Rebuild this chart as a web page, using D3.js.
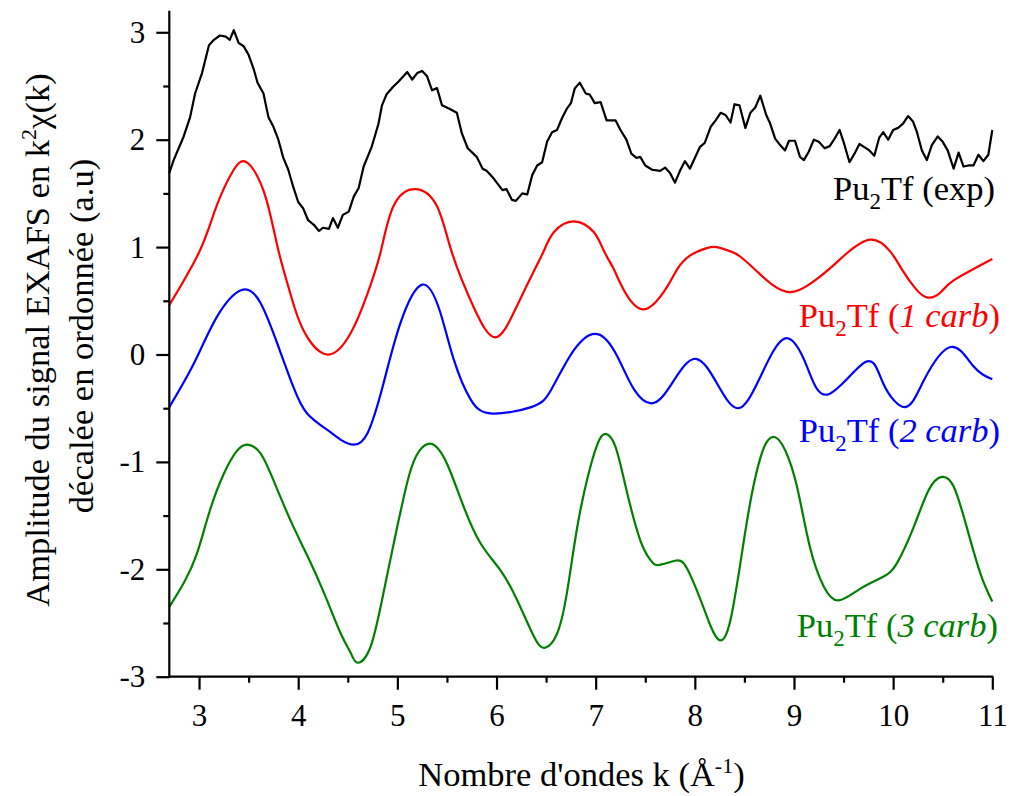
<!DOCTYPE html>
<html><head><meta charset="utf-8">
<script src="https://cdn.jsdelivr.net/npm/d3@7"></script>
<style>
html,body{margin:0;padding:0;background:#fff;}
</style></head>
<body><svg id="c" width="1011" height="796"></svg>
<script>
// ---- data ----
const xTicks = [3,4,5,6,7,8,9,10,11];
const xMinor = [3.5,4.5,5.5,6.5,7.5,8.5,9.5,10.5];
const yTicks = [-3,-2,-1,0,1,2,3];
const yMinor = [-2.5,-1.5,-0.5,0.5,1.5,2.5];

const kExp = [2.70,2.744,2.845,2.91,2.96,3.03,3.10,3.15,3.21,3.27,3.31,3.35,3.40,3.45,3.50,3.55,3.59,3.65,3.67,3.70,3.75,3.80,3.85,3.90,3.95,4.00,4.05,4.10,4.155,4.21,4.25,4.31,4.35,4.40,4.45,4.51,4.56,4.61,4.66,4.74,4.81,4.845,4.89,4.955,5.01,5.10,5.15,5.20,5.25,5.30,5.35,5.40,5.45,5.52,5.60,5.65,5.71,5.80,5.86,5.90,5.97,6.06,6.10,6.155,6.195,6.26,6.31,6.36,6.41,6.46,6.51,6.56,6.61,6.66,6.71,6.75,6.79,6.84,6.90,6.94,6.99,7.05,7.11,7.20,7.25,7.31,7.36,7.41,7.45,7.50,7.57,7.65,7.70,7.75,7.80,7.85,7.90,7.95,8.00,8.05,8.10,8.16,8.21,8.26,8.31,8.36,8.40,8.45,8.51,8.56,8.61,8.66,8.72,8.76,8.81,8.86,8.91,8.95,9.01,9.06,9.10,9.15,9.20,9.25,9.31,9.36,9.41,9.46,9.50,9.56,9.61,9.66,9.71,9.76,9.81,9.86,9.90,9.95,10.00,10.05,10.10,10.15,10.20,10.24,10.29,10.34,10.39,10.45,10.50,10.55,10.61,10.66,10.71,10.76,10.81,10.86,10.91,10.96,11.00];
const chiExp = [1.69,1.81,2.03,2.21,2.43,2.62,2.88,2.93,2.97,2.96,2.93,3.02,2.90,2.87,2.79,2.66,2.53,2.43,2.34,2.21,2.12,2.00,1.83,1.72,1.56,1.42,1.36,1.25,1.21,1.15,1.18,1.17,1.27,1.18,1.30,1.33,1.47,1.55,1.75,1.93,2.15,2.32,2.42,2.49,2.54,2.63,2.56,2.62,2.64,2.59,2.46,2.48,2.32,2.29,2.25,2.06,1.92,1.84,1.73,1.71,1.64,1.53,1.54,1.44,1.43,1.50,1.49,1.67,1.76,1.79,1.98,2.07,2.09,2.20,2.29,2.34,2.48,2.53,2.43,2.42,2.34,2.35,2.18,2.18,2.09,2.00,1.87,1.83,1.84,1.76,1.72,1.71,1.74,1.69,1.60,1.71,1.80,1.73,1.83,1.93,1.97,2.12,2.18,2.25,2.23,2.16,2.33,2.32,2.11,2.25,2.30,2.41,2.23,2.15,2.01,1.95,1.90,1.99,1.99,1.84,1.81,1.89,2.00,1.98,1.92,1.94,2.01,2.09,1.98,1.79,1.87,1.96,1.93,1.90,1.85,2.02,2.07,2.00,2.09,2.11,2.15,2.22,2.17,2.07,1.90,1.81,1.95,2.03,1.98,1.90,1.73,1.88,1.75,1.76,1.76,1.86,1.80,1.86,2.09];

const k1 = [2.70,3.01,3.18,3.35,3.45,3.55,3.68,3.80,3.92,4.05,4.29,4.53,4.70,4.83,4.96,5.18,5.40,5.55,5.77,5.99,6.20,6.39,6.48,6.58,6.78,6.98,7.08,7.18,7.25,7.47,7.72,7.82,7.95,8.12,8.22,8.36,8.46,8.62,8.78,8.96,9.15,9.36,9.53,9.77,9.97,10.09,10.22,10.35,10.48,10.61,11.0];
const chi1 = [0.46,0.97,1.39,1.72,1.80,1.72,1.44,0.97,0.57,0.23,0.0,0.20,0.57,0.95,1.38,1.54,1.38,0.95,0.44,0.16,0.44,0.80,0.97,1.14,1.24,1.14,0.97,0.80,0.66,0.42,0.63,0.79,0.92,0.99,1.0,0.96,0.91,0.78,0.65,0.58,0.65,0.80,0.94,1.07,0.96,0.79,0.62,0.53,0.58,0.69,0.89];

const k2 = [2.70,2.95,3.18,3.43,3.62,3.79,3.95,4.09,4.29,4.44,4.56,4.70,4.86,5.03,5.25,5.43,5.57,5.74,5.96,6.35,6.55,6.78,7.02,7.22,7.39,7.59,7.79,8.01,8.23,8.44,8.66,8.91,9.13,9.35,9.72,9.90,10.12,10.31,10.58,10.81,11.0];
const chi2 = [-0.49,-0.08,0.35,0.60,0.48,0.10,-0.30,-0.55,-0.70,-0.80,-0.84,-0.73,-0.27,0.29,0.65,0.40,-0.05,-0.42,-0.55,-0.49,-0.33,0.04,0.19,-0.02,-0.33,-0.45,-0.24,-0.04,-0.28,-0.50,-0.21,0.15,-0.11,-0.37,-0.07,-0.27,-0.49,-0.24,0.07,-0.11,-0.23];

const k3 = [2.70,2.85,2.98,3.11,3.25,3.38,3.49,3.62,3.75,3.92,4.09,4.26,4.43,4.53,4.60,4.73,4.86,5.00,5.12,5.22,5.33,5.43,5.53,5.67,5.84,6.04,6.21,6.38,6.49,6.61,6.71,6.81,6.92,7.02,7.10,7.20,7.31,7.45,7.55,7.63,7.80,7.92,8.06,8.16,8.25,8.36,8.49,8.59,8.70,8.81,8.91,9.03,9.16,9.30,9.45,9.67,9.90,10.04,10.21,10.36,10.49,10.61,10.74,10.88,11.0];
const chi3 = [-2.35,-2.12,-1.85,-1.45,-1.11,-0.90,-0.84,-0.92,-1.17,-1.54,-1.87,-2.22,-2.60,-2.78,-2.87,-2.72,-2.22,-1.60,-1.12,-0.90,-0.83,-0.90,-1.08,-1.42,-1.76,-2.01,-2.29,-2.63,-2.73,-2.60,-2.22,-1.63,-1.14,-0.83,-0.74,-0.86,-1.26,-1.73,-1.91,-1.96,-1.92,-1.99,-2.29,-2.53,-2.66,-2.47,-1.76,-1.23,-0.86,-0.77,-0.89,-1.23,-1.79,-2.16,-2.29,-2.18,-2.07,-1.94,-1.60,-1.26,-1.14,-1.23,-1.60,-2.04,-2.30];

const seriesNames = ["exp","1 carb","2 carb","3 carb"];
const seriesColors = ["#000000","#ff0000","#0000ff","#008000"];

// ---- drawing ----
const FONT = "Liberation Serif";
const svg = d3.select("#c");
const x = d3.scaleLinear().domain([2.7, 11]).range([169.3, 992.3]);
const y = d3.scaleLinear().domain([-3, 3.2]).range([676.7, 10.8]);

const series = [
  {k:kExp, c:chiExp, curve:d3.curveLinear},
  {k:k1, c:chi1, curve:d3.curveNatural},
  {k:k2, c:chi2, curve:d3.curveNatural},
  {k:k3, c:chi3, curve:d3.curveNatural}
];
series.forEach((s,i)=>{
  const pts = s.k.map((v,j)=>[v, s.c[j]]);
  const line = d3.line().x(d=>x(d[0])).y(d=>y(d[1])).curve(s.curve);
  svg.append("path").attr("d", line(pts)).attr("fill","none")
    .attr("stroke", seriesColors[i]).attr("stroke-width", 2.2)
    .attr("stroke-linejoin","round");
});

// axes
const fmt = d => String(d);
const gx = svg.append("g").attr("transform",`translate(0,${y(-3)})`);
gx.call(d3.axisBottom(x).tickValues(xTicks).tickSize(13).tickPadding(14).tickFormat(fmt));
const gxm = svg.append("g").attr("transform",`translate(0,${y(-3)})`);
gxm.call(d3.axisBottom(x).tickValues(xMinor).tickSize(6).tickFormat(""));
const gy = svg.append("g").attr("transform",`translate(${x(2.7)},0)`);
gy.call(d3.axisLeft(y).tickValues(yTicks).tickSize(13).tickPadding(11).tickFormat(fmt));
const gym = svg.append("g").attr("transform",`translate(${x(2.7)},0)`);
gym.call(d3.axisLeft(y).tickValues(yMinor).tickSize(6).tickFormat(""));
[gx,gxm,gy,gym].forEach(g=>{
  g.attr("font-family", null).attr("font-size", null);
  g.selectAll(".domain").attr("stroke","#000").attr("stroke-width",2.2);
  g.selectAll(".tick line").attr("stroke","#000").attr("stroke-width",2.2);
  g.selectAll("text").style("font-family", FONT).style("font-size","31px").attr("fill","#000");
});
gxm.select(".domain").remove();
gym.select(".domain").remove();
gx.select(".domain").attr("d",`M${x(2.7)},0H${x(11)+1}`);
gy.select(".domain").attr("d",`M0,${y(3.2)}V${y(-3)+1}`);

// axis titles
const xt = svg.append("text").attr("x", 581.5).attr("y", 786).attr("text-anchor","middle")
  .style("font-family", FONT).style("font-size","34.5px").attr("fill","#000");
xt.append("tspan").text("Nombre d'ondes k (Å");
xt.append("tspan").attr("dy",-13).style("font-size","22px").text("-1");
xt.append("tspan").attr("dy",13).text(")");

const yt1 = svg.append("text").attr("transform","rotate(-90)").attr("x",-340).attr("y",49)
  .attr("text-anchor","middle")
  .style("font-family", FONT).style("font-size","34.5px").attr("fill","#000");
yt1.append("tspan").text("Amplitude du signal EXAFS en k");
yt1.append("tspan").attr("dy",-13).style("font-size","22px").text("2");
yt1.append("tspan").attr("dy",13).text("χ(k)");

svg.append("text").attr("transform","rotate(-90)").attr("x",-336).attr("y",93)
  .attr("text-anchor","middle")
  .style("font-family", FONT).style("font-size","34.5px").attr("fill","#000")
  .text("décalée en ordonnée (a.u)");

// series labels
const labPos = [[995,200],[1000,327],[1000,442],[998,637]];
seriesNames.forEach((n,i)=>{
  const t = svg.append("text").attr("x",labPos[i][0]).attr("y",labPos[i][1])
    .attr("text-anchor","end").style("font-family", FONT).style("font-size","34.5px").attr("fill",seriesColors[i]);
  t.append("tspan").text("Pu");
  t.append("tspan").attr("dy",9).style("font-size","23px").text("2");
  t.append("tspan").attr("dy",-9).text("Tf (");
  if (n === "exp") {
    t.append("tspan").text("exp");
  } else {
    t.append("tspan").style("font-style","italic").text(n);
  }
  t.append("tspan").text(")");
});
</script></body></html>
